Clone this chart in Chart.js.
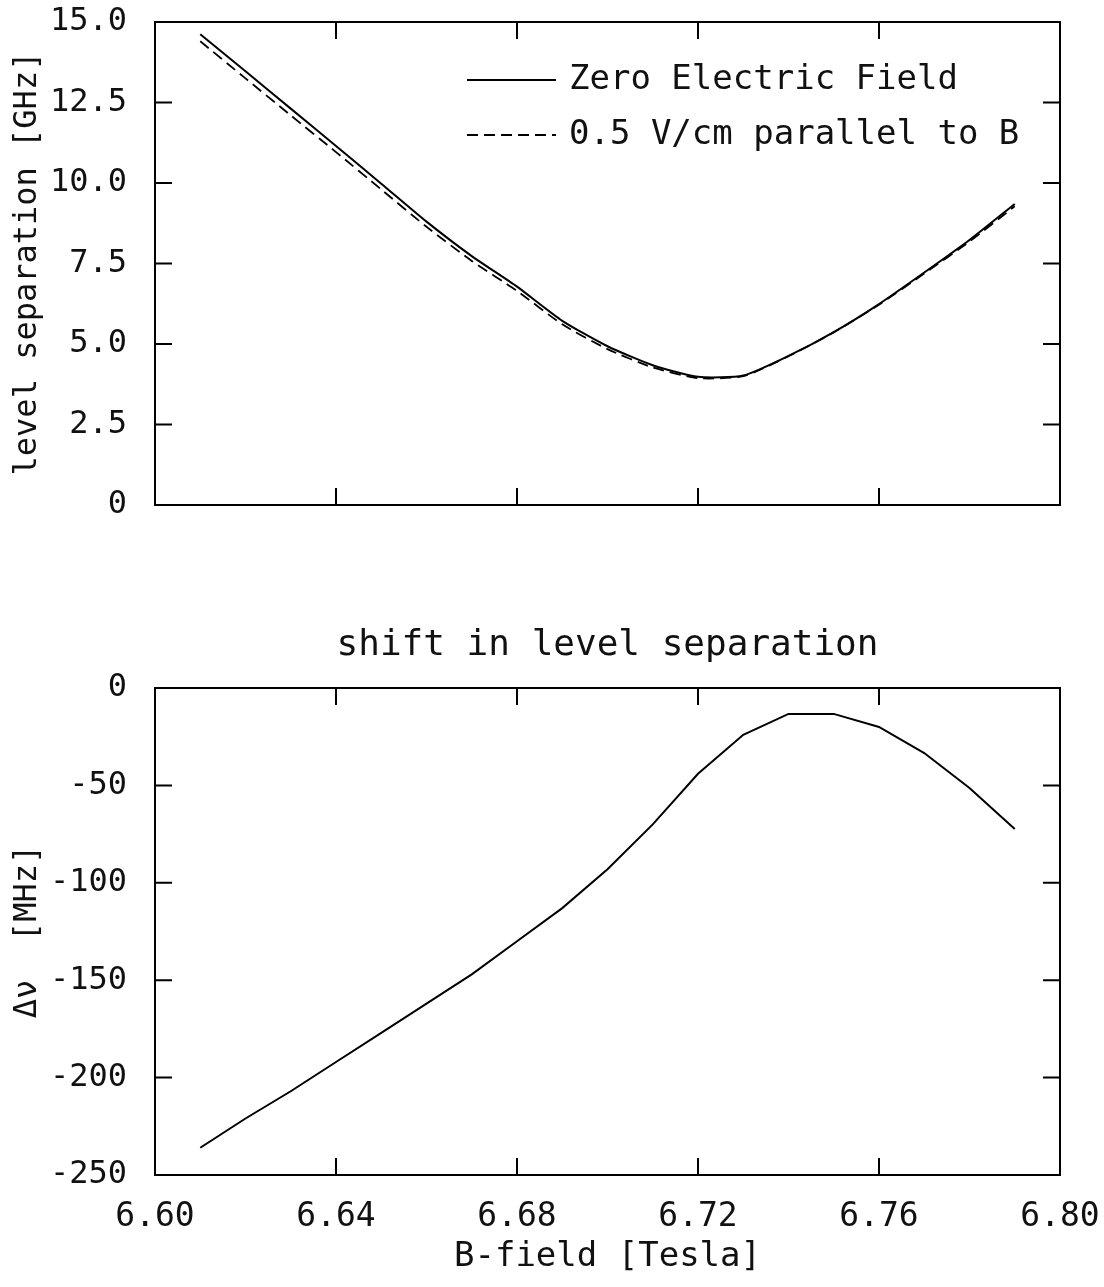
<!DOCTYPE html>
<html>
<head>
<meta charset="utf-8">
<script src="https://cdn.jsdelivr.net/npm/chart.js@4"></script>
<style>
  body { margin: 0; background: #fff; }
  #wrap { position: relative; width: 1104px; height: 1287px; }
  canvas { position: absolute; left: 0; }
</style>
</head>
<body>
<div id="wrap">
  <canvas id="sepChart" width="1104" height="540" style="top:0px"></canvas>
  <canvas id="shiftChart" width="1104" height="727" style="top:560px"></canvas>
</div>
<script>
// B-field values (Tesla) where the curves were computed
var bField = [6.61, 6.62, 6.63, 6.64, 6.65, 6.66, 6.67, 6.68, 6.69, 6.70,
              6.71, 6.72, 6.73, 6.74, 6.75, 6.76, 6.77, 6.78, 6.79];
// level separation in GHz
var sepZeroField = [14.62, 13.47, 12.31, 11.15, 9.98, 8.80, 7.73, 6.78, 5.72, 4.93,
                    4.34, 3.98, 4.02, 4.63, 5.37, 6.24, 7.22, 8.23, 9.35];
var sepWithField = [14.40, 13.25, 12.10, 10.96, 9.80, 8.64, 7.58, 6.65, 5.61, 4.84,
                    4.27, 3.94, 4.00, 4.62, 5.36, 6.22, 7.19, 8.18, 9.28];
// shift in MHz
var shiftMHz = [-236, -221, -207, -192, -177, -162, -147, -130, -113, -93,
                -70, -44, -24, -13.3, -13.3, -20, -33.4, -51.3, -72.4];

var xTicks = [6.60, 6.64, 6.68, 6.72, 6.76, 6.80];
var sepTicks = [0, 2.5, 5, 7.5, 10, 12.5, 15];
var shiftTicks = [-250, -200, -150, -100, -50, 0];

var FONT = '"DejaVu Sans Mono", "Liberation Mono", monospace';
Chart.defaults.color = '#111';

function pts(ys) {
  return bField.map(function(b, i) { return { x: b, y: ys[i] }; });
}
function setTicks(list) {
  return function(scale) {
    scale.ticks = list.map(function(v) { return { value: v }; });
  };
}
// fixed box size, and no extra room for labels that stick out
function fixSize(w, h) {
  return function(s) {
    if (w) s.width = w;
    if (h) s.height = h;
    s.paddingLeft = 0; s.paddingRight = 0;
    s.paddingTop = 0; s.paddingBottom = 0;
  };
}

// box round the plot with inward tick marks on all four sides
var framePlugin = {
  id: 'frame',
  afterDraw: function(chart) {
    var ctx = chart.ctx, a = chart.chartArea;
    var xs = chart.scales.x, ys = chart.scales.y;
    ctx.save();
    ctx.strokeStyle = '#000';
    ctx.lineWidth = 2;
    ctx.strokeRect(a.left, a.top, a.right - a.left, a.bottom - a.top);
    ctx.beginPath();
    xs.ticks.forEach(function(t) {
      if (t.value <= xs.min || t.value >= xs.max) return;
      var px = xs.getPixelForValue(t.value);
      ctx.moveTo(px, a.bottom); ctx.lineTo(px, a.bottom - 17);
      ctx.moveTo(px, a.top); ctx.lineTo(px, a.top + 17);
    });
    ys.ticks.forEach(function(t) {
      if (t.value <= ys.min || t.value >= ys.max) return;
      var py = ys.getPixelForValue(t.value);
      ctx.moveTo(a.left, py); ctx.lineTo(a.left + 17, py);
      ctx.moveTo(a.right, py); ctx.lineTo(a.right - 17, py);
    });
    ctx.stroke();
    ctx.restore();
  }
};

// legend drawn inside the top plot
var legendPlugin = {
  id: 'inlineLegend',
  afterDatasetsDraw: function(chart) {
    var ctx = chart.ctx;
    var rowY = [80, 135];
    chart.data.datasets.forEach(function(ds, i) {
      var y = rowY[i];
      ctx.save();
      ctx.strokeStyle = ds.borderColor;
      ctx.lineWidth = ds.borderWidth;
      ctx.setLineDash(ds.borderDash || []);
      ctx.beginPath();
      ctx.moveTo(467, y);
      ctx.lineTo(556, y);
      ctx.stroke();
      ctx.setLineDash([]);
      ctx.fillStyle = '#111';
      ctx.font = '34px ' + FONT;
      ctx.textBaseline = 'middle';
      ctx.fillText(ds.label, 569, y);
      ctx.restore();
    });
  }
};

var sepChart = new Chart(document.getElementById('sepChart'), {
  type: 'line',
  data: {
    datasets: [{
      label: 'Zero Electric Field',
      data: pts(sepZeroField),
      borderColor: '#000',
      borderWidth: 2,
      pointRadius: 0,
      tension: 0.2
    }, {
      label: '0.5 V/cm parallel to B',
      data: pts(sepWithField),
      borderColor: '#000',
      borderWidth: 1.8,
      borderDash: [11, 6],
      pointRadius: 0,
      tension: 0.2
    }]
  },
  options: {
    responsive: false,
    animation: false,
    devicePixelRatio: 1,
    layout: { padding: { top: 22, right: 44, bottom: 0, left: 0 } },
    plugins: { legend: { display: false }, tooltip: { enabled: false } },
    scales: {
      x: {
        type: 'linear', min: 6.6, max: 6.8,
        grid: { display: false }, border: { display: false },
        ticks: { display: false },
        afterBuildTicks: setTicks(xTicks),
        afterFit: fixSize(0, 35)
      },
      y: {
        type: 'linear', min: 0, max: 15,
        grid: { display: false }, border: { display: false },
        ticks: {
          autoSkip: false, padding: 20,
          font: { family: FONT, size: 32 },
          callback: function(v) { return v === 0 ? '0' : v.toFixed(1); }
        },
        afterBuildTicks: setTicks(sepTicks),
        title: {
          display: true, text: 'level separation [GHz]',
          font: { family: FONT, size: 32, lineHeight: 1.2 },
          padding: { top: 8, bottom: 0 }
        },
        afterFit: fixSize(155, 0)
      }
    }
  },
  plugins: [framePlugin, legendPlugin]
});

var shiftChart = new Chart(document.getElementById('shiftChart'), {
  type: 'line',
  data: {
    datasets: [{
      label: 'shift',
      data: pts(shiftMHz),
      borderColor: '#000',
      borderWidth: 2,
      pointRadius: 0,
      tension: 0
    }]
  },
  options: {
    responsive: false,
    animation: false,
    devicePixelRatio: 1,
    layout: { padding: { top: 0, right: 44, bottom: 0, left: 0 } },
    plugins: {
      legend: { display: false },
      tooltip: { enabled: false },
      title: {
        display: true, text: 'shift in level separation', fullSize: false,
        font: { family: FONT, size: 36, weight: 'normal', lineHeight: 1.2 },
        color: '#111',
        padding: { top: 64, bottom: 20.8 }
      }
    },
    scales: {
      x: {
        type: 'linear', min: 6.6, max: 6.8,
        grid: { display: false }, border: { display: false },
        ticks: {
          autoSkip: false, padding: 15, maxRotation: 0,
          font: { family: FONT, size: 33 },
          callback: function(v) { return v.toFixed(2); }
        },
        afterBuildTicks: setTicks(xTicks),
        title: {
          display: true, text: 'B-field [Tesla]',
          font: { family: FONT, size: 34, lineHeight: 1.2 },
          padding: { top: 0, bottom: 9 }
        },
        afterFit: fixSize(0, 112)
      },
      y: {
        type: 'linear', min: -250, max: 0,
        grid: { display: false }, border: { display: false },
        ticks: {
          autoSkip: false, padding: 20,
          font: { family: FONT, size: 32 },
          callback: function(v) { return String(v); }
        },
        afterBuildTicks: setTicks(shiftTicks),
        title: {
          display: true, text: 'Δν  [MHz]',
          font: { family: FONT, size: 32, lineHeight: 1.2 },
          padding: { top: 8, bottom: 0 }
        },
        afterFit: fixSize(155, 0)
      }
    }
  },
  plugins: [framePlugin]
});
</script>
</body>
</html>
